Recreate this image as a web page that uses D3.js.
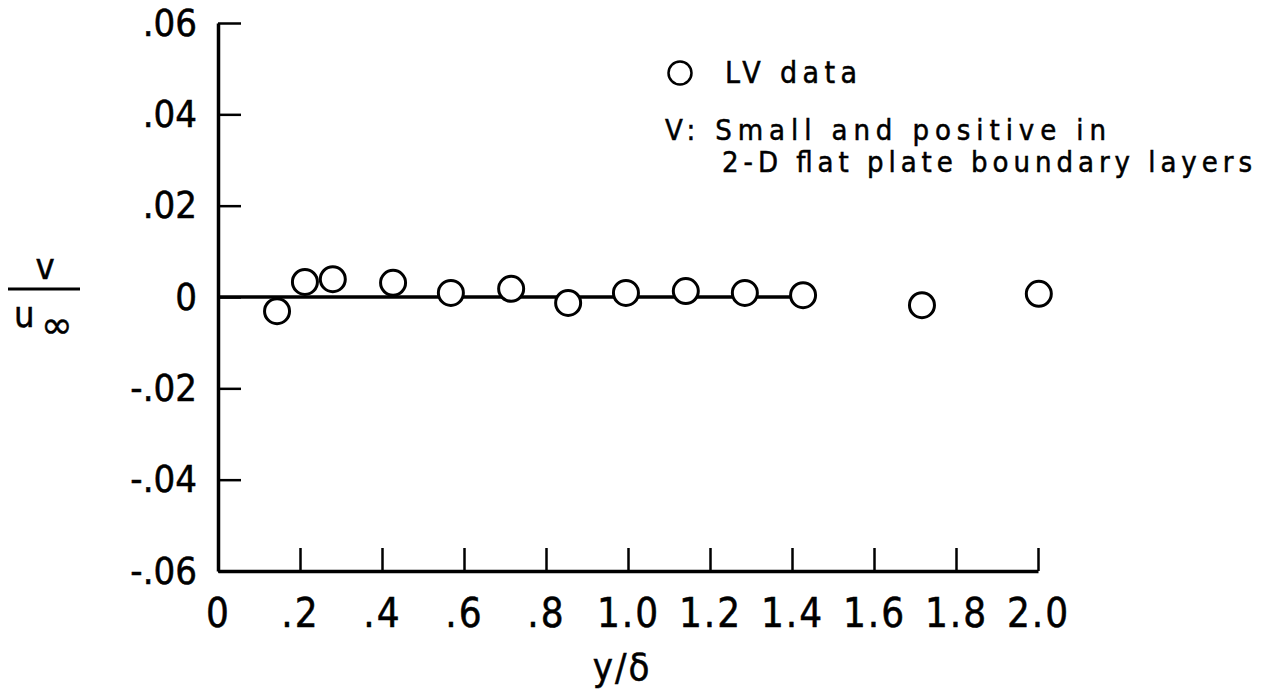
<!DOCTYPE html>
<html>
<head>
<meta charset="utf-8">
<script src="https://cdn.jsdelivr.net/npm/d3@7/dist/d3.min.js"></script>
<style>
  html, body { margin: 0; padding: 0; background: #fff; }
  svg { display: block; }
  text { font-family: "DejaVu Sans Condensed", "Liberation Sans Narrow", sans-serif; fill: #000; stroke: #000; stroke-width: 0.5px; }
</style>
</head>
<body>
<script>
// ---- data ----
const xValues = [0.144, 0.212, 0.280, 0.427, 0.568, 0.715, 0.854, 0.995, 1.141, 1.285, 1.427, 1.717, 2.002];
const yValues = [-0.0031, 0.0033, 0.0039, 0.0031, 0.0009, 0.0018, -0.0013, 0.0009, 0.0013, 0.0009, 0.0004, -0.0018, 0.0007];
const xTicks = [0, 0.2, 0.4, 0.6, 0.8, 1.0, 1.2, 1.4, 1.6, 1.8, 2.0];
const xTickLabels = ["0", ".2", ".4", ".6", ".8", "1.0", "1.2", "1.4", "1.6", "1.8", "2.0"];
const yTicks = [0.06, 0.04, 0.02, 0, -0.02, -0.04, -0.06];
const yTickLabels = [".06", ".04", ".02", "0", "-.02", "-.04", "-.06"];
const refLineX = [0, 1.427];   // horizontal line at v/u = 0
const refLineY = 0;
const legendLabel = "LV data";
const noteLines = ["V: Small and positive in", "2-D flat plate boundary layers"];
const xTitle = "y/δ";

// ---- layout ----
const W = 1268, H = 696;
const svg = d3.select("body").append("svg").attr("width", W).attr("height", H);

const x = d3.scaleLinear().domain([0, 2]).range([218, 1038]);
const y = d3.scaleLinear().domain([-0.06, 0.06]).range([571, 23]);

// x axis
const xAxis = d3.axisBottom(x)
  .tickValues(xTicks)
  .tickSizeInner(-23).tickSizeOuter(0)
  .tickPadding(28)
  .tickFormat((d, i) => xTickLabels[i]);
const gx = svg.append("g").attr("transform", `translate(0,${y(-0.06)})`).call(xAxis);
gx.select(".domain").attr("stroke", "#000").attr("stroke-width", 3.5);
gx.selectAll(".tick line").attr("stroke", "#000").attr("stroke-width", 2.5);
gx.selectAll(".tick text").attr("font-size", 40).attr("letter-spacing", "2px")
  .style("font-family", '"DejaVu Sans Condensed", "Liberation Sans Narrow", sans-serif');

// y axis
const yAxis = d3.axisLeft(y)
  .tickValues(yTicks)
  .tickSizeInner(-23).tickSizeOuter(0)
  .tickPadding(21)
  .tickFormat((d, i) => yTickLabels[i]);
const gy = svg.append("g").attr("transform", `translate(${x(0)},0)`).call(yAxis);
gy.select(".domain").attr("stroke", "#000").attr("stroke-width", 3.5);
gy.selectAll(".tick line").attr("stroke", "#000").attr("stroke-width", 2.5);
gy.selectAll(".tick text").attr("font-size", 38)
  .style("font-family", '"DejaVu Sans Condensed", "Liberation Sans Narrow", sans-serif');

// reference line at 0
svg.append("line")
  .attr("x1", x(refLineX[0])).attr("x2", x(refLineX[1]))
  .attr("y1", y(refLineY)).attr("y2", y(refLineY))
  .attr("stroke", "#000").attr("stroke-width", 3.5);

// data points
svg.append("g").selectAll("circle")
  .data(xValues.map((v, i) => [v, yValues[i]]))
  .join("circle")
  .attr("cx", d => x(d[0])).attr("cy", d => y(d[1]))
  .attr("r", 12.5)
  .attr("fill", "#fff").attr("stroke", "#000").attr("stroke-width", 3);

// legend
svg.append("circle").attr("cx", 680).attr("cy", 73).attr("r", 11.5)
  .attr("fill", "#fff").attr("stroke", "#000").attr("stroke-width", 2.5);
svg.append("text").attr("x", 725).attr("y", 83).attr("font-size", 30)
  .attr("textLength", 132).attr("lengthAdjust", "spacing").text(legendLabel);
svg.append("text").attr("x", 665).attr("y", 140).attr("font-size", 29)
  .attr("textLength", 441).attr("lengthAdjust", "spacing").text(noteLines[0]);
svg.append("text").attr("x", 722).attr("y", 172).attr("font-size", 29)
  .attr("textLength", 530).attr("lengthAdjust", "spacing").text(noteLines[1]);

// x title
svg.append("text").attr("x", 622).attr("y", 680).attr("font-size", 38)
  .attr("text-anchor", "middle").attr("letter-spacing", "2px").text(xTitle);

// y title: v / u∞
const yt = svg.append("g");
yt.append("text").attr("x", 45).attr("y", 279).attr("font-size", 36)
  .attr("text-anchor", "middle").text("v");
yt.append("line").attr("x1", 8).attr("x2", 80).attr("y1", 289).attr("y2", 289)
  .attr("stroke", "#000").attr("stroke-width", 3);
yt.append("text").attr("x", 14).attr("y", 327).attr("font-size", 36).text("u");
yt.append("text").attr("x", 41).attr("y", 338).attr("font-size", 38)
  .style("font-family", '"DejaVu Sans", sans-serif').text("∞");
</script>
</body>
</html>
